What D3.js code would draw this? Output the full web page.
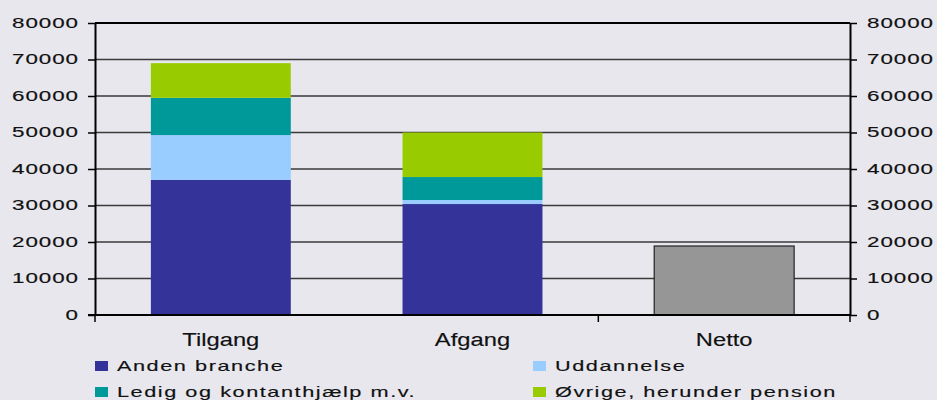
<!DOCTYPE html>
<meta charset="utf-8">
<head>
  <title>Tilgang og afgang</title>
</head>

<style>
body {
  margin: 0;
  background: #e8e7ee;
  font-family: "Liberation Sans", Arial, sans-serif;
}
svg text { fill: #111; stroke: #111; stroke-width: 0.15; }
</style>

<body>
  <div id="content">
    <svg width="937" height="400"></svg>
  </div>

  <script src="https://cdnjs.cloudflare.com/ajax/libs/d3/7.8.5/d3.min.js"></script>

  <script>
// data
var categories = ['Tilgang', 'Afgang', 'Netto'];
var seriesNames = ['Anden branche', 'Uddannelse', 'Ledig og kontanthjælp m.v.', 'Øvrige, herunder pension'];
var andenBranche = [37000, 30400, 0];
var uddannelse   = [12300, 1100, 0];
var ledig        = [10200, 6300, 0];
var oevrige      = [9500, 12200, 0];
var netto        = [0, 0, 18900];
var yTicks = [0, 10000, 20000, 30000, 40000, 50000, 60000, 70000, 80000];

var colors = ['#333399', '#99ccff', '#009999', '#99cc00'];

var svg = d3.select('svg');
var pLeft = 95, pRight = 850, pTop = 23, pBottom = 315;

var x = d3.scaleBand()
  .domain(categories)
  .range([pLeft, pRight])
  .paddingInner(0.444)
  .paddingOuter(0.222);

var y = d3.scaleLinear()
  .domain([0, 80000])
  .range([pBottom, pTop]);

// horizontally stretched text like the original
function stretch(sel, k) {
  sel.each(function() {
    var t = d3.select(this);
    var tx = +t.attr('x') || 0;
    t.attr('x', tx / k).attr('transform', 'scale(' + k + ',1)');
  });
}

// gridlines
svg.append('g')
  .selectAll('line')
  .data(yTicks.filter(function(d) { return d > 0 && d < 80000; }))
  .join('line')
  .attr('x1', pLeft).attr('x2', pRight)
  .attr('y1', function(d) { return y(d); })
  .attr('y2', function(d) { return y(d); })
  .attr('stroke', '#3a3a3a')
  .attr('stroke-width', 1.5);

// stacked bars
var rows = categories.map(function(c, i) {
  return {cat: c, a: andenBranche[i], u: uddannelse[i], l: ledig[i], o: oevrige[i]};
});
var stack = d3.stack().keys(['a', 'u', 'l', 'o']);
var layers = stack(rows);

svg.append('g')
  .selectAll('g')
  .data(layers)
  .join('g')
  .attr('fill', function(d, i) { return colors[i]; })
  .selectAll('rect')
  .data(function(d) { return d.filter(function(p) { return p[1] > p[0]; }); })
  .join('rect')
  .attr('x', function(d) { return x(d.data.cat); })
  .attr('width', x.bandwidth())
  .attr('y', function(d) { return y(d[1]); })
  .attr('height', function(d) { return y(d[0]) - y(d[1]); });

// netto bar
svg.append('g')
  .selectAll('rect')
  .data(categories.map(function(c, i) { return {cat: c, v: netto[i]}; }).filter(function(d) { return d.v > 0; }))
  .join('rect')
  .attr('x', function(d) { return x(d.cat); })
  .attr('width', x.bandwidth())
  .attr('y', function(d) { return y(d.v); })
  .attr('height', function(d) { return y(0) - y(d.v); })
  .attr('fill', '#969696')
  .attr('stroke', '#222')
  .attr('stroke-width', 1.2);

// frame top
svg.append('line')
  .attr('x1', pLeft).attr('x2', pRight)
  .attr('y1', pTop).attr('y2', pTop)
  .attr('stroke', '#000').attr('stroke-width', 2);

// y axes
var yLeft = svg.append('g')
  .attr('transform', 'translate(' + pLeft + ',0)')
  .call(d3.axisLeft(y).tickValues(yTicks).tickFormat(d3.format('d')).tickSize(7).tickPadding(9).tickSizeOuter(0));
var yRight = svg.append('g')
  .attr('transform', 'translate(' + pRight + ',0)')
  .call(d3.axisRight(y).tickValues(yTicks).tickFormat(d3.format('d')).tickSize(7).tickPadding(10).tickSizeOuter(0));

[yLeft, yRight].forEach(function(g) {
  g.select('.domain').attr('stroke', '#000').attr('stroke-width', 2);
  g.selectAll('.tick line').attr('stroke', '#000').attr('stroke-width', 1.5);
  g.selectAll('text')
    .attr('font-family', '"Liberation Sans", Arial, sans-serif')
    .attr('font-size', 14)
    .attr('letter-spacing', 0.6)
    .attr('fill', '#111');
  stretch(g.selectAll('text'), 1.6);
});

// x axis
svg.append('line')
  .attr('x1', pLeft - 7).attr('x2', pRight)
  .attr('y1', pBottom).attr('y2', pBottom)
  .attr('stroke', '#000').attr('stroke-width', 2);

var step = x.step();
svg.append('g')
  .selectAll('line')
  .data([0, 2, 3])
  .join('line')
  .attr('x1', function(d) { return pLeft + d * step; })
  .attr('x2', function(d) { return pLeft + d * step; })
  .attr('y1', pBottom).attr('y2', pBottom + 7)
  .attr('stroke', '#000').attr('stroke-width', 1.5);

var catLabels = svg.append('g')
  .selectAll('text')
  .data(categories)
  .join('text')
  .attr('x', function(d) { return x(d) + x.bandwidth() / 2; })
  .attr('y', 346)
  .attr('text-anchor', 'middle')
  .attr('font-size', 18)
  .text(function(d) { return d; });
stretch(catLabels, 1.32);

// legend
var legend = svg.append('g')
  .selectAll('g')
  .data(seriesNames)
  .join('g')
  .attr('transform', function(d, i) {
    return 'translate(' + (i % 2 === 0 ? 95 : 533) + ',' + (Math.floor(i / 2) * 26 + 361) + ')';
  });

legend.append('rect')
  .attr('width', 13).attr('height', 10)
  .attr('fill', function(d, i) { return colors[i]; });

var legText = legend.append('text')
  .attr('x', 22)
  .attr('y', 9.5)
  .attr('font-size', 14)
  .attr('letter-spacing', 1.0)
  .text(function(d) { return d; });
stretch(legText, 1.55);
  </script>
</body>
</html>
